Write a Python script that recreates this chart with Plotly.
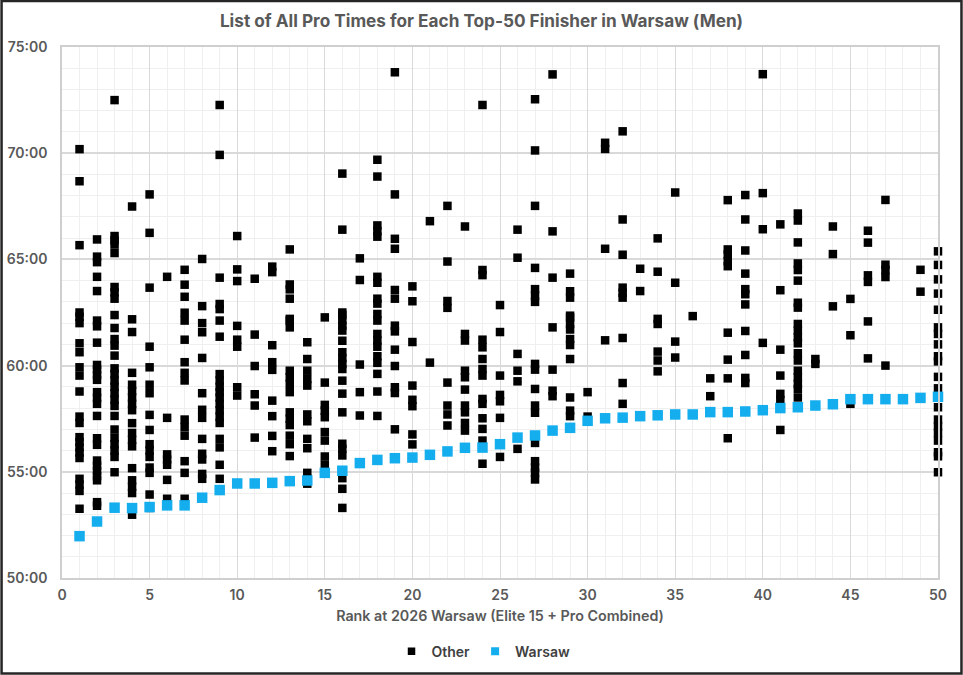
import plotly.graph_objects as go

FONT = "Inter"
GREY = "#595959"

title_text = "List of All Pro Times for Each Top-50 Finisher in Warsaw (Men)"
x_title = "Rank at 2026 Warsaw (Elite 15 + Pro Combined)"
y_ticks = [50, 55, 60, 65, 70, 75]
y_labels = ["50:00", "55:00", "60:00", "65:00", "70:00", "75:00"]
x_ticks = [0, 5, 10, 15, 20, 25, 30, 35, 40, 45, 50]

# Warsaw finishing time (decimal minutes) for ranks 1 to 50
warsaw_ranks = list(range(1, 51))
warsaw_times = [
    51.97, 52.66, 53.31, 53.29, 53.34, 53.42, 53.42, 53.78, 54.14, 54.45,
    54.45, 54.48, 54.56, 54.59, 54.95, 55.05, 55.41, 55.56, 55.64, 55.67,
    55.80, 55.96, 56.13, 56.14, 56.30, 56.61, 56.71, 56.94, 57.07, 57.40,
    57.52, 57.55, 57.62, 57.66, 57.70, 57.70, 57.81, 57.81, 57.84, 57.90,
    58.00, 58.04, 58.12, 58.18, 58.42, 58.42, 58.42, 58.42, 58.48, 58.53,
]

# Other pro times (decimal minutes) per rank
other_times = {
    1: [70.19, 68.68, 65.67, 62.5, 62.3, 62.0, 61.05, 60.63, 59.92, 59.53, 58.78, 57.6, 57.3, 56.63, 56.4, 56.15, 55.9, 55.65, 54.67, 54.4, 54.1, 53.26],
    2: [65.94, 65.13, 64.87, 64.18, 63.51, 62.12, 61.85, 61.08, 60.03, 59.81, 59.56, 59.33, 58.75, 58.48, 58.2, 57.63, 56.58, 56.27, 55.53, 55.28, 55.04, 54.8, 54.6, 53.57, 53.4],
    3: [72.5, 66.1, 65.9, 65.7, 65.3, 63.7, 63.45, 63.15, 62.38, 61.77, 61.25, 60.94, 60.47, 59.87, 59.6, 59.3, 59.0, 58.7, 58.4, 58.1, 57.63, 56.99, 56.6, 56.3, 56.0, 55.7, 54.98],
    4: [67.49, 62.18, 61.58, 59.66, 59.1, 58.8, 58.5, 58.2, 57.9, 57.29, 56.83, 56.5, 56.2, 55.17, 54.6, 54.3, 54.0, 53.3, 52.98],
    5: [68.06, 66.25, 63.67, 60.89, 59.92, 59.1, 58.7, 57.68, 56.97, 56.3, 56.0, 55.7, 55.2, 54.95, 53.93, 53.3],
    6: [64.18, 57.54, 55.82, 55.58, 55.33, 54.62, 53.73],
    7: [64.51, 63.81, 63.24, 62.49, 62.12, 61.22, 60.16, 59.66, 59.3, 57.46, 57.1, 56.7, 55.5, 54.95, 53.73],
    8: [65.02, 62.8, 62.0, 61.57, 60.36, 58.7, 57.92, 57.54, 56.55, 55.85, 55.58, 54.9, 54.67],
    9: [72.27, 69.92, 64.14, 62.9, 62.66, 62.12, 61.36, 59.6, 59.3, 59.0, 58.75, 58.5, 58.2, 57.9, 57.6, 57.3, 56.55, 56.15, 55.33, 54.67],
    10: [66.1, 64.53, 63.98, 61.87, 61.22, 60.89, 58.98, 58.59],
    11: [64.09, 61.46, 59.98, 58.65, 58.12, 56.61],
    12: [64.66, 64.4, 60.96, 60.16, 59.8, 58.35, 57.62, 56.69, 55.97],
    13: [65.47, 63.82, 63.59, 63.15, 62.2, 62.12, 61.8, 59.76, 59.45, 59.14, 58.75, 57.8, 57.5, 57.2, 56.7, 56.3, 55.74],
    14: [61.1, 60.31, 59.76, 59.37, 59.06, 57.7, 57.38, 56.55, 56.11, 54.95, 54.67, 54.44],
    15: [62.27, 59.2, 58.15, 57.88, 57.57, 56.87, 56.47, 55.72, 55.33],
    16: [69.04, 66.4, 62.5, 62.38, 62.12, 61.88, 61.65, 61.17, 60.63, 60.35, 60.08, 59.84, 59.29, 58.68, 57.8, 56.32, 56.08, 55.77, 54.7, 54.2, 53.3],
    17: [65.05, 64.03, 60.05, 58.75, 57.65],
    18: [69.69, 68.9, 66.6, 66.33, 66.07, 64.18, 63.9, 63.15, 62.92, 62.43, 62.12, 61.49, 61.18, 60.89, 60.44, 60.13, 59.61, 58.78, 57.63],
    19: [73.81, 68.06, 65.97, 65.5, 63.56, 63.15, 61.88, 61.61, 60.75, 59.98, 58.98, 58.71, 57.0],
    20: [63.73, 63.03, 61.11, 59.06, 58.39, 58.09, 56.76, 56.29],
    21: [66.8, 60.14],
    22: [67.52, 64.9, 63.04, 62.72, 59.2, 58.12, 57.7, 57.18],
    23: [66.55, 61.49, 61.18, 59.76, 59.45, 58.87, 58.12, 57.8, 57.3, 56.94],
    24: [72.27, 64.5, 64.26, 61.22, 60.86, 60.31, 59.84, 59.53, 58.43, 58.2, 57.52, 57.02, 56.47, 55.38],
    25: [62.85, 61.58, 59.53, 58.62, 58.32, 57.54, 55.7],
    26: [66.4, 65.08, 60.55, 59.76, 59.26, 56.08],
    27: [72.54, 70.13, 67.52, 64.6, 63.6, 63.3, 63.0, 60.08, 59.81, 58.9, 58.12, 57.78, 56.36, 55.5, 55.2, 54.95, 54.64],
    28: [73.71, 66.32, 64.14, 61.8, 59.81, 58.82, 58.56],
    29: [64.33, 63.5, 63.2, 62.35, 62.27, 61.96, 61.7, 61.25, 60.97, 60.31, 58.5, 57.88, 57.62],
    30: [58.75, 57.6],
    31: [70.49, 70.2, 65.5, 61.19],
    32: [71.03, 66.88, 65.22, 63.67, 63.43, 63.2, 61.3, 59.18, 58.2],
    33: [64.56, 63.51],
    34: [65.99, 64.42, 62.2, 61.96, 60.66, 60.24, 59.73],
    35: [68.15, 63.9, 61.13, 60.38],
    36: [62.33],
    37: [59.4, 58.56],
    38: [67.79, 65.47, 65.23, 64.92, 64.68, 61.55, 60.28, 59.4, 56.58],
    39: [68.03, 66.88, 65.42, 64.33, 63.6, 63.36, 62.88, 61.63, 60.5, 59.42, 59.18],
    40: [73.72, 68.12, 66.42, 61.07],
    41: [66.65, 63.55, 60.75, 59.53, 58.67, 58.38, 56.97],
    42: [67.16, 66.83, 65.8, 64.81, 64.5, 64.0, 62.96, 62.73, 61.96, 61.65, 61.33, 61.05, 60.58, 60.24, 59.76, 59.45, 59.14, 58.9, 58.5],
    43: [60.31, 60.08],
    44: [66.55, 65.25, 62.79],
    45: [63.14, 61.43, 58.2],
    46: [66.35, 65.79, 64.25, 63.94, 62.08, 60.34],
    47: [67.8, 64.75, 64.5, 64.17, 60.0],
    49: [64.51, 63.48],
    50: [65.38, 64.74, 64.06, 63.39, 62.63, 61.8, 61.49, 61.0, 60.44, 60.2, 59.47, 58.93, 58.04, 57.46, 57.15, 56.83, 56.47, 55.92, 55.73, 54.98],
}

other_x = [rank for rank, times in other_times.items() for _ in times]
other_y = [t for times in other_times.values() for t in times]

M_L, M_R, M_T, M_B = 61.5, 24.5, 47, 96.5
PLOT_W, PLOT_H = 963 - M_L - M_R, 675 - M_T - M_B

fig = go.Figure()
fig.add_trace(go.Scatter(
    x=other_x, y=other_y, mode="markers", name="Other", cliponaxis=False, showlegend=False,
    marker=dict(symbol="square", size=8.5, color="#000000", line=dict(width=0)),
))
fig.add_trace(go.Scatter(
    x=warsaw_ranks, y=warsaw_times, mode="markers", name="Warsaw", cliponaxis=False, showlegend=False,
    marker=dict(symbol="square", size=10.5, color="#14ADEE", line=dict(width=0)),
))
# Legend keys, smaller than the plotted markers as in the reference
fig.add_trace(go.Scatter(x=[None], y=[None], mode="markers", name="Other",
                         marker=dict(symbol="square", size=7.5, color="#000000", line=dict(width=0))))
fig.add_trace(go.Scatter(x=[None], y=[None], mode="markers", name="Warsaw",
                         marker=dict(symbol="square", size=8, color="#14ADEE", line=dict(width=0))))

tick_font = dict(family=FONT, size=14, color=GREY, weight=600)

fig.update_layout(
    width=963, height=675,
    margin=dict(l=M_L, r=M_R, t=M_T, b=M_B, pad=0, autoexpand=False),
    paper_bgcolor="white", plot_bgcolor="white",
    font=dict(family=FONT, size=14, color=GREY),
    title=dict(text=title_text, x=0.5, xanchor="center", y=0.969, yanchor="middle",
               font=dict(family=FONT, size=17.2, color=GREY, weight=700)),
    legend=dict(orientation="h", x=(483.5 - M_L) / PLOT_W, xanchor="center", y=0.0345, yanchor="middle", yref="container",
                font=dict(family=FONT, size=14, color="#404040", weight=600),
                itemwidth=30, itemsizing="trace", bgcolor="rgba(0,0,0,0)", traceorder="normal"),
    xaxis=dict(
        range=[0, 50], tickvals=x_ticks, ticks="outside", ticklen=3, tickcolor="rgba(0,0,0,0)",
        showline=True, linecolor="#cfcfcf", linewidth=1.5, mirror=True, automargin=False,
        showgrid=True, gridcolor="#d9d9d9", gridwidth=1.2, zeroline=False,
        minor=dict(dtick=1, showgrid=True, gridcolor="#efefef", gridwidth=1, ticks=""),
        title=dict(text=x_title, font=dict(family=FONT, size=14.3, color=GREY, weight=600), standoff=9),
        tickfont=tick_font,
    ),
    yaxis=dict(
        range=[50, 75], tickvals=y_ticks, ticktext=y_labels, ticks="outside", ticklen=10, tickcolor="rgba(0,0,0,0)",
        showline=True, linecolor="#cfcfcf", linewidth=1.5, mirror=True, automargin=False,
        showgrid=True, gridcolor="#d9d9d9", gridwidth=1.5, zeroline=False,
        minor=dict(dtick=1, showgrid=True, gridcolor="#efefef", gridwidth=1, ticks=""),
        tickfont=tick_font,
    ),
    shapes=[dict(type="rect", xref="paper", yref="paper", layer="above",
                 x0=-(M_L - 1) / PLOT_W, x1=1 + (M_R - 1) / PLOT_W,
                 y0=-(M_B - 1) / PLOT_H, y1=1 + (M_T - 1) / PLOT_H,
                 line=dict(color="#262626", width=2.5), fillcolor="rgba(0,0,0,0)")],
)

fig.write_html("out.html", config={"displayModeBar": False},
               post_script="document.body.style.margin='0';document.body.style.overflow='hidden';")
